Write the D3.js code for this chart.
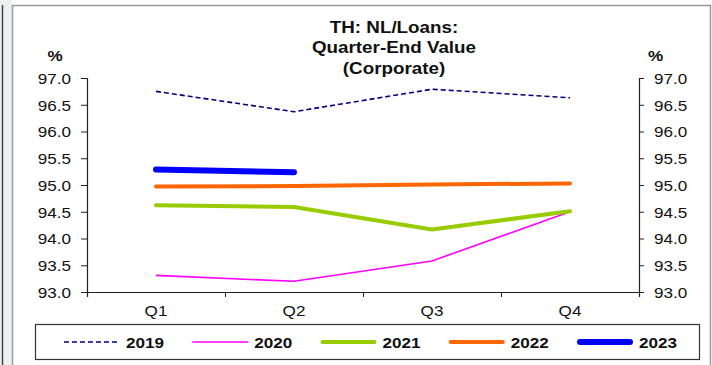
<!DOCTYPE html>
<html>
<head>
<meta charset="utf-8">
<script src="https://cdn.jsdelivr.net/npm/d3@7"></script>
<style>
  html, body { margin: 0; padding: 0; background: #fff; }
  svg { display: block; }
  text { font-family: "Liberation Sans", Arial, sans-serif; fill: #111; }
</style>
</head>
<body>
<svg id="chart" width="712" height="365"></svg>
<script>
const quarters = ["Q1", "Q2", "Q3", "Q4"];
const years = ["2019", "2020", "2021", "2022", "2023"];
const v2019 = [96.75, 96.37, 96.79, 96.63];
const v2020 = [93.31, 93.20, 93.58, 94.50];
const v2021 = [94.62, 94.59, 94.17, 94.51];
const v2022 = [94.97, 94.98, 95.01, 95.03];
const v2023 = [95.29, 95.24];
const yTicks = [93.0, 93.5, 94.0, 94.5, 95.0, 95.5, 96.0, 96.5, 97.0];
const titleLines = ["TH: NL/Loans:", "Quarter-End Value", "(Corporate)"];

(function () {
const seriesValues = [v2019, v2020, v2021, v2022, v2023];
const styles = [
  { color: "#000080", width: 1.6, dash: "5,3", cap: "butt" },
  { color: "#FF00FF", width: 1.6, dash: null, cap: "butt" },
  { color: "#99CC00", width: 4, dash: null, cap: "round" },
  { color: "#FF6600", width: 4, dash: null, cap: "round" },
  { color: "#0000FF", width: 6, dash: null, cap: "round" }
];
const SX = 1.14; // horizontal text stretch seen in the reference

const svg = d3.select("#chart");

// page chrome
svg.append("rect").attr("x", 0).attr("y", 0).attr("width", 12).attr("height", 365).attr("fill", "#eef0f4");
svg.append("line").attr("x1", 2.5).attr("x2", 2.5).attr("y1", 5).attr("y2", 365).attr("stroke", "#444").attr("stroke-width", 1.5);
svg.append("path").attr("d", "M12.5,365 V5.5 H710.5 V365").attr("fill", "none").attr("stroke", "#999").attr("stroke-width", 1.5);

const pL = 87, pR = 639, pT = 78, pB = 292;
const x = d3.scaleBand().domain(quarters).range([pL, pR]);
const xb = d3.scaleLinear().domain([0, 4]).range([pL, pR]);
const y = d3.scaleLinear().domain([93, 97]).range([pB, pT]);
const cx = q => x(q) + x.bandwidth() / 2;

function stretchText(sel, anchor, dx) {
  sel.each(function () {
    const t = d3.select(this);
    t.attr("x", dx / SX)
     .attr("transform", `scale(${SX},1)`)
     .attr("text-anchor", anchor);
  });
}

// left axis
const gl = svg.append("g").attr("transform", `translate(${pL},0)`)
  .call(d3.axisLeft(y).tickValues(yTicks).tickSize(6).tickPadding(10).tickFormat(d3.format(".1f")));
gl.selectAll("text").style("font-size", "15px").attr("dy", "0.36em");
stretchText(gl.selectAll("text"), "end", -16);

// right axis
const gr = svg.append("g").attr("transform", `translate(${pR},0)`)
  .call(d3.axisRight(y).tickValues(yTicks).tickSize(5).tickPadding(10).tickFormat(d3.format(".1f")));
gr.selectAll("text").style("font-size", "15px").attr("dy", "0.36em");
stretchText(gr.selectAll("text"), "start", 15);

// bottom axis: boundary ticks
const gb = svg.append("g").attr("transform", `translate(0,${pB})`)
  .call(d3.axisBottom(xb).tickValues([0, 1, 2, 3, 4]).tickSize(5).tickFormat(""));
// bottom axis labels
const gbl = svg.append("g").attr("transform", `translate(0,${pB})`)
  .call(d3.axisBottom(x).tickSize(0).tickPadding(14));
gbl.select(".domain").remove();
gbl.selectAll("text").style("font-size", "15px").attr("dy", "0.71em").attr("y", 13)
  .attr("transform", `scale(${SX},1)`).attr("x", 0);

[gl, gr, gb].forEach(g => {
  g.selectAll("line").attr("stroke", "#222");
  g.select(".domain").attr("stroke", "#222").attr("stroke-width", 1.2);
});

// series lines
const line = d3.line().x((d, i) => cx(quarters[i])).y(d => y(d));
seriesValues.forEach((vals, i) => {
  const s = styles[i];
  svg.append("path").datum(vals)
    .attr("d", line)
    .attr("fill", "none")
    .attr("stroke", s.color)
    .attr("stroke-width", s.width)
    .attr("stroke-linecap", s.cap)
    .attr("stroke-linejoin", "round")
    .attr("stroke-dasharray", s.dash);
});

// title
const title = svg.append("g").attr("transform", "translate(394,0)");
titleLines.forEach((t, i) => {
  title.append("text").text(t)
    .attr("x", 0).attr("y", 33 + i * 20.5)
    .attr("text-anchor", "middle")
    .attr("transform", `scale(${SX},1)`)
    .style("font-size", "16.5px").style("font-weight", "bold");
});

// % labels
[[55, 61], [655.5, 61]].forEach(p => {
  svg.append("g").attr("transform", `translate(${p[0]},${p[1]})`)
    .append("text").text("%")
    .attr("text-anchor", "middle")
    .attr("transform", `scale(${SX},1)`)
    .style("font-size", "15px").style("font-weight", "bold");
});

// legend
svg.append("rect").attr("x", 35.5).attr("y", 324.5).attr("width", 664).attr("height", 35)
  .attr("fill", "#fff").attr("stroke", "#333").attr("stroke-width", 1.2);
const legX = d3.scaleLinear().domain([0, 4]).range([64, 577]);
years.forEach((yr, i) => {
  const s = styles[i];
  const lx = legX(i);
  const inset = s.cap === "round" ? s.width / 2 : 0;
  svg.append("line").attr("x1", lx + inset).attr("x2", lx + 56 - inset)
    .attr("y1", 342).attr("y2", 342)
    .attr("stroke", s.color).attr("stroke-width", s.width)
    .attr("stroke-linecap", s.cap).attr("stroke-dasharray", s.dash);
  svg.append("g").attr("transform", `translate(${lx + 62},347.5)`)
    .append("text").text(yr)
    .attr("transform", `scale(${SX},1)`)
    .style("font-size", "15px").style("font-weight", "bold");
});
})();
</script>
</body>
</html>
